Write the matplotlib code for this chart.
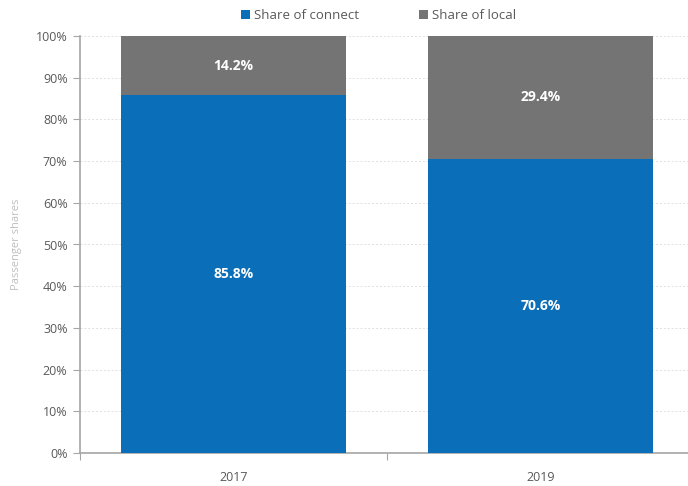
import matplotlib
matplotlib.use("Agg")
import matplotlib.pyplot as plt
from matplotlib.ticker import PercentFormatter

years = ["2017", "2019"]
connect = [85.8, 70.6]
local = [14.2, 29.4]
series_names = ["Share of connect", "Share of local"]
colors = ["#0B6EB8", "#747474"]

plt.rcParams["font.family"] = ["Open Sans", "DejaVu Sans"]

fig = plt.figure(figsize=(6.88, 4.86), dpi=100)
ax = fig.add_axes([80 / 688, 33 / 486, 614 / 688, 417 / 486])

x = list(range(len(years)))
w = 0.736
b1 = ax.bar(x, connect, width=w, color=colors[0], label=series_names[0], zorder=3)
b2 = ax.bar(x, local, width=w, bottom=connect, color=colors[1], label=series_names[1], zorder=3)

for i in x:
    ax.text(i, connect[i] / 2, f"{connect[i]:.1f}%", ha="center", va="center",
            color="white", fontsize=10, fontweight="bold", zorder=4)
    ax.text(i, connect[i] + local[i] / 2, f"{local[i]:.1f}%", ha="center", va="center",
            color="white", fontsize=10, fontweight="bold", zorder=4)

ax.set_ylim(0, 100)
ax.set_xlim(-0.5, 1.5)
ax.set_yticks(range(0, 101, 10))
ax.yaxis.set_major_formatter(PercentFormatter(decimals=0))
ax.set_xticks([-0.5, 0.5, 1.5])
ax.set_xticklabels([])
ax.set_xticks(x, minor=True)
ax.set_xticklabels(years, minor=True)
ax.tick_params(axis="x", which="minor", length=0, pad=13, labelsize=9, labelcolor="#595959")
ax.tick_params(axis="x", which="major", length=5, color="#a6a6a6")
ax.tick_params(axis="y", length=5, color="#a6a6a6", labelsize=9, labelcolor="#595959", pad=4)

ax.grid(axis="y", color="#e0e0e0", linestyle=(0, (2, 2)), linewidth=0.7, zorder=0)
for side in ["top", "right"]:
    ax.spines[side].set_visible(False)
for side in ["left", "bottom"]:
    ax.spines[side].set_color("#a6a6a6")
    ax.spines[side].set_linewidth(1.2)

ax.set_ylabel("Passenger shares", fontsize=8, color="#bfbfbf", labelpad=10)

fig.legend(handles=[b1, b2], labels=series_names, loc="upper center",
           bbox_to_anchor=(0.55, 1.005), ncol=2, frameon=False, fontsize=9.5,
           handlelength=0.7, handleheight=0.7, handletextpad=0.3, columnspacing=4.5,
           labelcolor="#595959")

fig.savefig("out.png", dpi=100)
